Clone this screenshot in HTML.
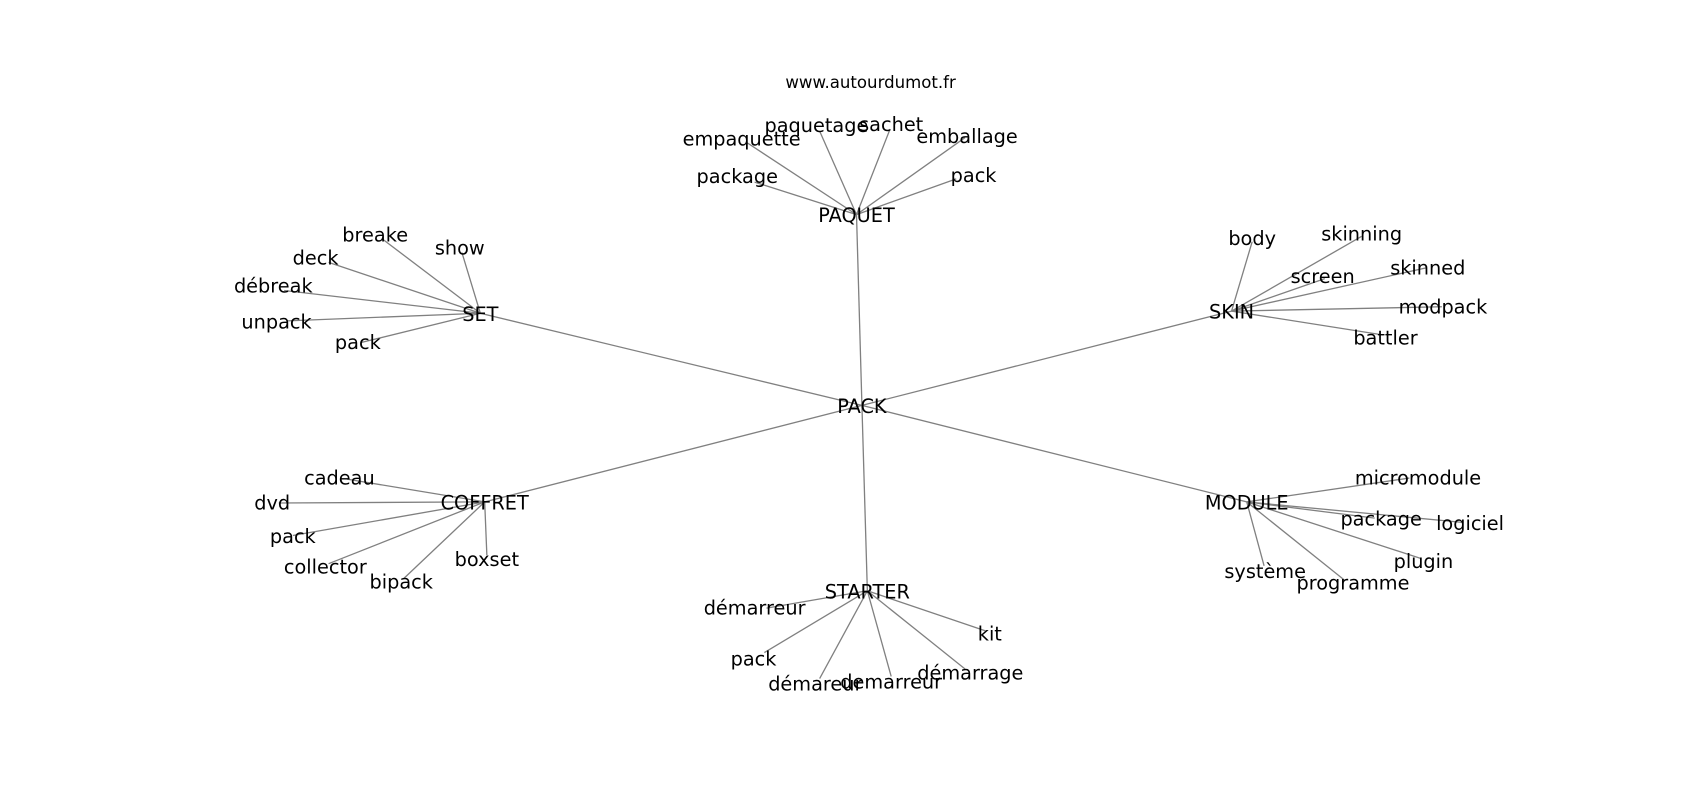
<!DOCTYPE html>
<html><head><meta charset="utf-8"><style>
html,body{margin:0;padding:0;background:#fff;}
svg{display:block;}
text{font-family:"DejaVu Sans","Liberation Sans",sans-serif;fill:#000;}
</style></head><body>
<svg width="1700" height="800" viewBox="0 0 1568 738" xmlns="http://www.w3.org/2000/svg">
<g stroke="#808080" stroke-width="1.2" fill="none">
<line x1="795" y1="374" x2="790" y2="198"/>
<line x1="795" y1="374" x2="443" y2="289"/>
<line x1="795" y1="374" x2="1136" y2="287"/>
<line x1="795" y1="374" x2="447" y2="463"/>
<line x1="795" y1="374" x2="1150" y2="463"/>
<line x1="795" y1="374" x2="800" y2="545"/>
<line x1="790" y1="198" x2="696" y2="168"/>
<line x1="790" y1="198" x2="688" y2="131"/>
<line x1="790" y1="198" x2="756" y2="121"/>
<line x1="790" y1="198" x2="821" y2="119"/>
<line x1="790" y1="198" x2="890" y2="127"/>
<line x1="790" y1="198" x2="882" y2="165"/>
<line x1="443" y1="289" x2="352" y2="220"/>
<line x1="443" y1="289" x2="426" y2="233"/>
<line x1="443" y1="289" x2="303" y2="242"/>
<line x1="443" y1="289" x2="262" y2="268"/>
<line x1="443" y1="289" x2="265" y2="296"/>
<line x1="443" y1="289" x2="333" y2="316"/>
<line x1="1136" y1="287" x2="1155" y2="223"/>
<line x1="1136" y1="287" x2="1256" y2="218"/>
<line x1="1136" y1="287" x2="1222" y2="257"/>
<line x1="1136" y1="287" x2="1316" y2="247"/>
<line x1="1136" y1="287" x2="1330" y2="283"/>
<line x1="1136" y1="287" x2="1276" y2="309"/>
<line x1="447" y1="463" x2="320" y2="442"/>
<line x1="447" y1="463" x2="257" y2="464"/>
<line x1="447" y1="463" x2="270" y2="494"/>
<line x1="447" y1="463" x2="303" y2="520"/>
<line x1="447" y1="463" x2="372" y2="534"/>
<line x1="447" y1="463" x2="449" y2="512"/>
<line x1="1150" y1="463" x2="1300" y2="441"/>
<line x1="1150" y1="463" x2="1268" y2="478"/>
<line x1="1150" y1="463" x2="1350" y2="482"/>
<line x1="1150" y1="463" x2="1310" y2="515"/>
<line x1="1150" y1="463" x2="1166" y2="522"/>
<line x1="1150" y1="463" x2="1240" y2="535"/>
<line x1="800" y1="545" x2="707" y2="561"/>
<line x1="800" y1="545" x2="705" y2="602"/>
<line x1="800" y1="545" x2="756" y2="626"/>
<line x1="800" y1="545" x2="822" y2="624"/>
<line x1="800" y1="545" x2="909" y2="582"/>
<line x1="800" y1="545" x2="890" y2="617"/>
</g>
<g font-size="17.8" text-anchor="middle" dominant-baseline="central">
<text x="803" y="76" font-size="15.3">www.autourdumot.fr</text>
<text x="795" y="375">PACK</text>
<text x="790" y="199">PAQUET</text>
<text x="443" y="290">SET</text>
<text x="1136" y="288">SKIN</text>
<text x="447" y="464">COFFRET</text>
<text x="1150" y="464">MODULE</text>
<text x="800" y="546">STARTER</text>

<text x="680" y="163">package</text>
<text x="684" y="128">empaquette</text>
<text x="753" y="116">paquetage</text>
<text x="822" y="115">sachet</text>
<text x="892" y="126">emballage</text>
<text x="898" y="162">pack</text>

<text x="346" y="217">breake</text>
<text x="424" y="229">show</text>
<text x="291" y="238">deck</text>
<text x="252" y="264">débreak</text>
<text x="255" y="297">unpack</text>
<text x="330" y="316">pack</text>

<text x="1155" y="220">body</text>
<text x="1256" y="216">skinning</text>
<text x="1220" y="255">screen</text>
<text x="1317" y="247">skinned</text>
<text x="1331" y="283">modpack</text>
<text x="1278" y="312">battler</text>

<text x="313" y="441">cadeau</text>
<text x="251" y="464">dvd</text>
<text x="270" y="495">pack</text>
<text x="300" y="523">collector</text>
<text x="370" y="537">bipack</text>
<text x="449" y="516">boxset</text>

<text x="1308" y="441">micromodule</text>
<text x="1274" y="479">package</text>
<text x="1356" y="483">logiciel</text>
<text x="1313" y="518">plugin</text>
<text x="1167" y="527">système</text>
<text x="1248" y="538">programme</text>

<text x="696" y="561">démarreur</text>
<text x="695" y="608">pack</text>
<text x="752" y="631">démareur</text>
<text x="822" y="629">demarreur</text>
<text x="913" y="585">kit</text>
<text x="895" y="621">démarrage</text>
</g>
</svg>
</body></html>
